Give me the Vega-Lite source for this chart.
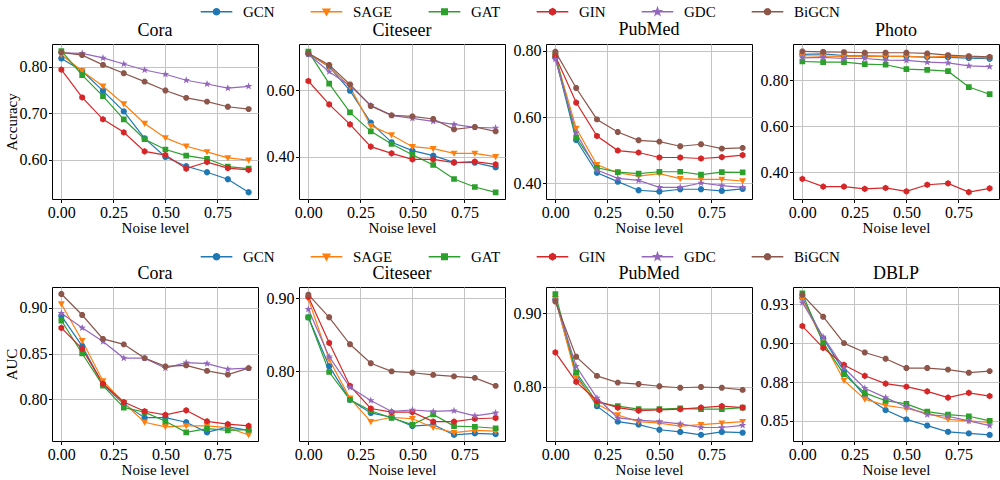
{
"$schema": "https://vega.github.io/schema/vega-lite/v6.json",
"padding": {"left": 3, "right": 0, "top": 4, "bottom": 0},
"datasets": {
"acc_Cora": [
{"model":"GCN","noise":0,"value":0.818},{"model":"GCN","noise":0.1,"value":0.791},{"model":"GCN","noise":0.2,"value":0.748},{"model":"GCN","noise":0.3,"value":0.704},{"model":"GCN","noise":0.4,"value":0.646},{"model":"GCN","noise":0.5,"value":0.606},{"model":"GCN","noise":0.6,"value":0.586},{"model":"GCN","noise":0.7,"value":0.573},{"model":"GCN","noise":0.8,"value":0.558},{"model":"GCN","noise":0.9,"value":0.530},
{"model":"SAGE","noise":0,"value":0.826},{"model":"SAGE","noise":0.1,"value":0.791},{"model":"SAGE","noise":0.2,"value":0.758},{"model":"SAGE","noise":0.3,"value":0.720},{"model":"SAGE","noise":0.4,"value":0.678},{"model":"SAGE","noise":0.5,"value":0.647},{"model":"SAGE","noise":0.6,"value":0.629},{"model":"SAGE","noise":0.7,"value":0.617},{"model":"SAGE","noise":0.8,"value":0.604},{"model":"SAGE","noise":0.9,"value":0.599},
{"model":"GAT","noise":0,"value":0.834},{"model":"GAT","noise":0.1,"value":0.782},{"model":"GAT","noise":0.2,"value":0.737},{"model":"GAT","noise":0.3,"value":0.687},{"model":"GAT","noise":0.4,"value":0.644},{"model":"GAT","noise":0.5,"value":0.622},{"model":"GAT","noise":0.6,"value":0.609},{"model":"GAT","noise":0.7,"value":0.602},{"model":"GAT","noise":0.8,"value":0.585},{"model":"GAT","noise":0.9,"value":0.581},
{"model":"GIN","noise":0,"value":0.794},{"model":"GIN","noise":0.1,"value":0.734},{"model":"GIN","noise":0.2,"value":0.687},{"model":"GIN","noise":0.3,"value":0.659},{"model":"GIN","noise":0.4,"value":0.618},{"model":"GIN","noise":0.5,"value":0.610},{"model":"GIN","noise":0.6,"value":0.581},{"model":"GIN","noise":0.7,"value":0.595},{"model":"GIN","noise":0.8,"value":0.582},{"model":"GIN","noise":0.9,"value":0.578},
{"model":"GDC","noise":0,"value":0.830},{"model":"GDC","noise":0.1,"value":0.829},{"model":"GDC","noise":0.2,"value":0.819},{"model":"GDC","noise":0.3,"value":0.806},{"model":"GDC","noise":0.4,"value":0.793},{"model":"GDC","noise":0.5,"value":0.784},{"model":"GDC","noise":0.6,"value":0.771},{"model":"GDC","noise":0.7,"value":0.763},{"model":"GDC","noise":0.8,"value":0.754},{"model":"GDC","noise":0.9,"value":0.758},
{"model":"BiGCN","noise":0,"value":0.831},{"model":"BiGCN","noise":0.1,"value":0.825},{"model":"BiGCN","noise":0.2,"value":0.804},{"model":"BiGCN","noise":0.3,"value":0.786},{"model":"BiGCN","noise":0.4,"value":0.768},{"model":"BiGCN","noise":0.5,"value":0.749},{"model":"BiGCN","noise":0.6,"value":0.733},{"model":"BiGCN","noise":0.7,"value":0.725},{"model":"BiGCN","noise":0.8,"value":0.714},{"model":"BiGCN","noise":0.9,"value":0.709}
],
"acc_Citeseer": [
{"model":"GCN","noise":0,"value":0.708},{"model":"GCN","noise":0.1,"value":0.670},{"model":"GCN","noise":0.2,"value":0.598},{"model":"GCN","noise":0.3,"value":0.502},{"model":"GCN","noise":0.4,"value":0.443},{"model":"GCN","noise":0.5,"value":0.418},{"model":"GCN","noise":0.6,"value":0.403},{"model":"GCN","noise":0.7,"value":0.383},{"model":"GCN","noise":0.8,"value":0.382},{"model":"GCN","noise":0.9,"value":0.368},
{"model":"SAGE","noise":0,"value":0.710},{"model":"SAGE","noise":0.1,"value":0.670},{"model":"SAGE","noise":0.2,"value":0.610},{"model":"SAGE","noise":0.3,"value":0.493},{"model":"SAGE","noise":0.4,"value":0.465},{"model":"SAGE","noise":0.5,"value":0.430},{"model":"SAGE","noise":0.6,"value":0.424},{"model":"SAGE","noise":0.7,"value":0.410},{"model":"SAGE","noise":0.8,"value":0.410},{"model":"SAGE","noise":0.9,"value":0.400},
{"model":"GAT","noise":0,"value":0.715},{"model":"GAT","noise":0.1,"value":0.619},{"model":"GAT","noise":0.2,"value":0.533},{"model":"GAT","noise":0.3,"value":0.476},{"model":"GAT","noise":0.4,"value":0.438},{"model":"GAT","noise":0.5,"value":0.406},{"model":"GAT","noise":0.6,"value":0.375},{"model":"GAT","noise":0.7,"value":0.333},{"model":"GAT","noise":0.8,"value":0.309},{"model":"GAT","noise":0.9,"value":0.293},
{"model":"GIN","noise":0,"value":0.627},{"model":"GIN","noise":0.1,"value":0.557},{"model":"GIN","noise":0.2,"value":0.497},{"model":"GIN","noise":0.3,"value":0.430},{"model":"GIN","noise":0.4,"value":0.410},{"model":"GIN","noise":0.5,"value":0.392},{"model":"GIN","noise":0.6,"value":0.392},{"model":"GIN","noise":0.7,"value":0.382},{"model":"GIN","noise":0.8,"value":0.385},{"model":"GIN","noise":0.9,"value":0.377},
{"model":"GDC","noise":0,"value":0.707},{"model":"GDC","noise":0.1,"value":0.655},{"model":"GDC","noise":0.2,"value":0.613},{"model":"GDC","noise":0.3,"value":0.554},{"model":"GDC","noise":0.4,"value":0.524},{"model":"GDC","noise":0.5,"value":0.515},{"model":"GDC","noise":0.6,"value":0.506},{"model":"GDC","noise":0.7,"value":0.497},{"model":"GDC","noise":0.8,"value":0.488},{"model":"GDC","noise":0.9,"value":0.486},
{"model":"BiGCN","noise":0,"value":0.710},{"model":"BiGCN","noise":0.1,"value":0.675},{"model":"BiGCN","noise":0.2,"value":0.617},{"model":"BiGCN","noise":0.3,"value":0.552},{"model":"BiGCN","noise":0.4,"value":0.524},{"model":"BiGCN","noise":0.5,"value":0.521},{"model":"BiGCN","noise":0.6,"value":0.513},{"model":"BiGCN","noise":0.7,"value":0.482},{"model":"BiGCN","noise":0.8,"value":0.489},{"model":"BiGCN","noise":0.9,"value":0.476}
],
"acc_PubMed": [
{"model":"GCN","noise":0,"value":0.780},{"model":"GCN","noise":0.1,"value":0.531},{"model":"GCN","noise":0.2,"value":0.432},{"model":"GCN","noise":0.3,"value":0.405},{"model":"GCN","noise":0.4,"value":0.379},{"model":"GCN","noise":0.5,"value":0.375},{"model":"GCN","noise":0.6,"value":0.382},{"model":"GCN","noise":0.7,"value":0.382},{"model":"GCN","noise":0.8,"value":0.377},{"model":"GCN","noise":0.9,"value":0.383},
{"model":"SAGE","noise":0,"value":0.785},{"model":"SAGE","noise":0.1,"value":0.566},{"model":"SAGE","noise":0.2,"value":0.456},{"model":"SAGE","noise":0.3,"value":0.432},{"model":"SAGE","noise":0.4,"value":0.422},{"model":"SAGE","noise":0.5,"value":0.429},{"model":"SAGE","noise":0.6,"value":0.414},{"model":"SAGE","noise":0.7,"value":0.412},{"model":"SAGE","noise":0.8,"value":0.412},{"model":"SAGE","noise":0.9,"value":0.407},
{"model":"GAT","noise":0,"value":0.788},{"model":"GAT","noise":0.1,"value":0.538},{"model":"GAT","noise":0.2,"value":0.447},{"model":"GAT","noise":0.3,"value":0.434},{"model":"GAT","noise":0.4,"value":0.429},{"model":"GAT","noise":0.5,"value":0.435},{"model":"GAT","noise":0.6,"value":0.435},{"model":"GAT","noise":0.7,"value":0.426},{"model":"GAT","noise":0.8,"value":0.434},{"model":"GAT","noise":0.9,"value":0.433},
{"model":"GIN","noise":0,"value":0.785},{"model":"GIN","noise":0.1,"value":0.644},{"model":"GIN","noise":0.2,"value":0.543},{"model":"GIN","noise":0.3,"value":0.499},{"model":"GIN","noise":0.4,"value":0.493},{"model":"GIN","noise":0.5,"value":0.478},{"model":"GIN","noise":0.6,"value":0.478},{"model":"GIN","noise":0.7,"value":0.475},{"model":"GIN","noise":0.8,"value":0.479},{"model":"GIN","noise":0.9,"value":0.485},
{"model":"GDC","noise":0,"value":0.775},{"model":"GDC","noise":0.1,"value":0.553},{"model":"GDC","noise":0.2,"value":0.440},{"model":"GDC","noise":0.3,"value":0.415},{"model":"GDC","noise":0.4,"value":0.409},{"model":"GDC","noise":0.5,"value":0.388},{"model":"GDC","noise":0.6,"value":0.388},{"model":"GDC","noise":0.7,"value":0.401},{"model":"GDC","noise":0.8,"value":0.393},{"model":"GDC","noise":0.9,"value":0.388},
{"model":"BiGCN","noise":0,"value":0.798},{"model":"BiGCN","noise":0.1,"value":0.688},{"model":"BiGCN","noise":0.2,"value":0.593},{"model":"BiGCN","noise":0.3,"value":0.555},{"model":"BiGCN","noise":0.4,"value":0.530},{"model":"BiGCN","noise":0.5,"value":0.526},{"model":"BiGCN","noise":0.6,"value":0.512},{"model":"BiGCN","noise":0.7,"value":0.518},{"model":"BiGCN","noise":0.8,"value":0.505},{"model":"BiGCN","noise":0.9,"value":0.507}
],
"acc_Photo": [
{"model":"GCN","noise":0,"value":0.912},{"model":"GCN","noise":0.1,"value":0.914},{"model":"GCN","noise":0.2,"value":0.907},{"model":"GCN","noise":0.3,"value":0.906},{"model":"GCN","noise":0.4,"value":0.903},{"model":"GCN","noise":0.5,"value":0.903},{"model":"GCN","noise":0.6,"value":0.900},{"model":"GCN","noise":0.7,"value":0.899},{"model":"GCN","noise":0.8,"value":0.896},{"model":"GCN","noise":0.9,"value":0.893},
{"model":"SAGE","noise":0,"value":0.906},{"model":"SAGE","noise":0.1,"value":0.904},{"model":"SAGE","noise":0.2,"value":0.903},{"model":"SAGE","noise":0.3,"value":0.904},{"model":"SAGE","noise":0.4,"value":0.903},{"model":"SAGE","noise":0.5,"value":0.903},{"model":"SAGE","noise":0.6,"value":0.900},{"model":"SAGE","noise":0.7,"value":0.903},{"model":"SAGE","noise":0.8,"value":0.900},{"model":"SAGE","noise":0.9,"value":0.897},
{"model":"GAT","noise":0,"value":0.881},{"model":"GAT","noise":0.1,"value":0.878},{"model":"GAT","noise":0.2,"value":0.878},{"model":"GAT","noise":0.3,"value":0.870},{"model":"GAT","noise":0.4,"value":0.867},{"model":"GAT","noise":0.5,"value":0.848},{"model":"GAT","noise":0.6,"value":0.845},{"model":"GAT","noise":0.7,"value":0.839},{"model":"GAT","noise":0.8,"value":0.770},{"model":"GAT","noise":0.9,"value":0.739},
{"model":"GIN","noise":0,"value":0.371},{"model":"GIN","noise":0.1,"value":0.338},{"model":"GIN","noise":0.2,"value":0.338},{"model":"GIN","noise":0.3,"value":0.328},{"model":"GIN","noise":0.4,"value":0.332},{"model":"GIN","noise":0.5,"value":0.317},{"model":"GIN","noise":0.6,"value":0.346},{"model":"GIN","noise":0.7,"value":0.352},{"model":"GIN","noise":0.8,"value":0.314},{"model":"GIN","noise":0.9,"value":0.330},
{"model":"GDC","noise":0,"value":0.897},{"model":"GDC","noise":0.1,"value":0.899},{"model":"GDC","noise":0.2,"value":0.894},{"model":"GDC","noise":0.3,"value":0.894},{"model":"GDC","noise":0.4,"value":0.887},{"model":"GDC","noise":0.5,"value":0.886},{"model":"GDC","noise":0.6,"value":0.878},{"model":"GDC","noise":0.7,"value":0.875},{"model":"GDC","noise":0.8,"value":0.862},{"model":"GDC","noise":0.9,"value":0.859},
{"model":"BiGCN","noise":0,"value":0.925},{"model":"BiGCN","noise":0.1,"value":0.923},{"model":"BiGCN","noise":0.2,"value":0.922},{"model":"BiGCN","noise":0.3,"value":0.919},{"model":"BiGCN","noise":0.4,"value":0.919},{"model":"BiGCN","noise":0.5,"value":0.919},{"model":"BiGCN","noise":0.6,"value":0.916},{"model":"BiGCN","noise":0.7,"value":0.909},{"model":"BiGCN","noise":0.8,"value":0.904},{"model":"BiGCN","noise":0.9,"value":0.901}
],
"auc_Cora": [
{"model":"GCN","noise":0,"value":0.891},{"model":"GCN","noise":0.1,"value":0.858},{"model":"GCN","noise":0.2,"value":0.816},{"model":"GCN","noise":0.3,"value":0.795},{"model":"GCN","noise":0.4,"value":0.780},{"model":"GCN","noise":0.5,"value":0.780},{"model":"GCN","noise":0.6,"value":0.775},{"model":"GCN","noise":0.7,"value":0.764},{"model":"GCN","noise":0.8,"value":0.770},{"model":"GCN","noise":0.9,"value":0.766},
{"model":"SAGE","noise":0,"value":0.904},{"model":"SAGE","noise":0.1,"value":0.864},{"model":"SAGE","noise":0.2,"value":0.820},{"model":"SAGE","noise":0.3,"value":0.796},{"model":"SAGE","noise":0.4,"value":0.775},{"model":"SAGE","noise":0.5,"value":0.770},{"model":"SAGE","noise":0.6,"value":0.771},{"model":"SAGE","noise":0.7,"value":0.771},{"model":"SAGE","noise":0.8,"value":0.769},{"model":"SAGE","noise":0.9,"value":0.761},
{"model":"GAT","noise":0,"value":0.886},{"model":"GAT","noise":0.1,"value":0.850},{"model":"GAT","noise":0.2,"value":0.815},{"model":"GAT","noise":0.3,"value":0.791},{"model":"GAT","noise":0.4,"value":0.786},{"model":"GAT","noise":0.5,"value":0.776},{"model":"GAT","noise":0.6,"value":0.764},{"model":"GAT","noise":0.7,"value":0.768},{"model":"GAT","noise":0.8,"value":0.766},{"model":"GAT","noise":0.9,"value":0.767},
{"model":"GIN","noise":0,"value":0.878},{"model":"GIN","noise":0.1,"value":0.855},{"model":"GIN","noise":0.2,"value":0.817},{"model":"GIN","noise":0.3,"value":0.797},{"model":"GIN","noise":0.4,"value":0.787},{"model":"GIN","noise":0.5,"value":0.783},{"model":"GIN","noise":0.6,"value":0.788},{"model":"GIN","noise":0.7,"value":0.776},{"model":"GIN","noise":0.8,"value":0.773},{"model":"GIN","noise":0.9,"value":0.771},
{"model":"GDC","noise":0,"value":0.894},{"model":"GDC","noise":0.1,"value":0.878},{"model":"GDC","noise":0.2,"value":0.863},{"model":"GDC","noise":0.3,"value":0.845},{"model":"GDC","noise":0.4,"value":0.845},{"model":"GDC","noise":0.5,"value":0.834},{"model":"GDC","noise":0.6,"value":0.840},{"model":"GDC","noise":0.7,"value":0.839},{"model":"GDC","noise":0.8,"value":0.833},{"model":"GDC","noise":0.9,"value":0.834},
{"model":"BiGCN","noise":0,"value":0.915},{"model":"BiGCN","noise":0.1,"value":0.892},{"model":"BiGCN","noise":0.2,"value":0.866},{"model":"BiGCN","noise":0.3,"value":0.860},{"model":"BiGCN","noise":0.4,"value":0.845},{"model":"BiGCN","noise":0.5,"value":0.836},{"model":"BiGCN","noise":0.6,"value":0.837},{"model":"BiGCN","noise":0.7,"value":0.831},{"model":"BiGCN","noise":0.8,"value":0.827},{"model":"BiGCN","noise":0.9,"value":0.834}
],
"auc_Citeseer": [
{"model":"GCN","noise":0,"value":0.874},{"model":"GCN","noise":0.1,"value":0.807},{"model":"GCN","noise":0.2,"value":0.761},{"model":"GCN","noise":0.3,"value":0.743},{"model":"GCN","noise":0.4,"value":0.737},{"model":"GCN","noise":0.5,"value":0.725},{"model":"GCN","noise":0.6,"value":0.727},{"model":"GCN","noise":0.7,"value":0.713},{"model":"GCN","noise":0.8,"value":0.715},{"model":"GCN","noise":0.9,"value":0.714},
{"model":"SAGE","noise":0,"value":0.899},{"model":"SAGE","noise":0.1,"value":0.816},{"model":"SAGE","noise":0.2,"value":0.763},{"model":"SAGE","noise":0.3,"value":0.731},{"model":"SAGE","noise":0.4,"value":0.737},{"model":"SAGE","noise":0.5,"value":0.735},{"model":"SAGE","noise":0.6,"value":0.723},{"model":"SAGE","noise":0.7,"value":0.716},{"model":"SAGE","noise":0.8,"value":0.719},{"model":"SAGE","noise":0.9,"value":0.718},
{"model":"GAT","noise":0,"value":0.874},{"model":"GAT","noise":0.1,"value":0.799},{"model":"GAT","noise":0.2,"value":0.761},{"model":"GAT","noise":0.3,"value":0.746},{"model":"GAT","noise":0.4,"value":0.736},{"model":"GAT","noise":0.5,"value":0.727},{"model":"GAT","noise":0.6,"value":0.741},{"model":"GAT","noise":0.7,"value":0.725},{"model":"GAT","noise":0.8,"value":0.724},{"model":"GAT","noise":0.9,"value":0.722},
{"model":"GIN","noise":0,"value":0.902},{"model":"GIN","noise":0.1,"value":0.839},{"model":"GIN","noise":0.2,"value":0.780},{"model":"GIN","noise":0.3,"value":0.749},{"model":"GIN","noise":0.4,"value":0.744},{"model":"GIN","noise":0.5,"value":0.744},{"model":"GIN","noise":0.6,"value":0.731},{"model":"GIN","noise":0.7,"value":0.731},{"model":"GIN","noise":0.8,"value":0.735},{"model":"GIN","noise":0.9,"value":0.736},
{"model":"GDC","noise":0,"value":0.885},{"model":"GDC","noise":0.1,"value":0.820},{"model":"GDC","noise":0.2,"value":0.778},{"model":"GDC","noise":0.3,"value":0.760},{"model":"GDC","noise":0.4,"value":0.745},{"model":"GDC","noise":0.5,"value":0.747},{"model":"GDC","noise":0.6,"value":0.745},{"model":"GDC","noise":0.7,"value":0.746},{"model":"GDC","noise":0.8,"value":0.739},{"model":"GDC","noise":0.9,"value":0.743},
{"model":"BiGCN","noise":0,"value":0.905},{"model":"BiGCN","noise":0.1,"value":0.874},{"model":"BiGCN","noise":0.2,"value":0.837},{"model":"BiGCN","noise":0.3,"value":0.811},{"model":"BiGCN","noise":0.4,"value":0.800},{"model":"BiGCN","noise":0.5,"value":0.798},{"model":"BiGCN","noise":0.6,"value":0.795},{"model":"BiGCN","noise":0.7,"value":0.793},{"model":"BiGCN","noise":0.8,"value":0.791},{"model":"BiGCN","noise":0.9,"value":0.780}
],
"auc_PubMed": [
{"model":"GCN","noise":0,"value":0.919},{"model":"GCN","noise":0.1,"value":0.817},{"model":"GCN","noise":0.2,"value":0.774},{"model":"GCN","noise":0.3,"value":0.753},{"model":"GCN","noise":0.4,"value":0.749},{"model":"GCN","noise":0.5,"value":0.742},{"model":"GCN","noise":0.6,"value":0.739},{"model":"GCN","noise":0.7,"value":0.735},{"model":"GCN","noise":0.8,"value":0.739},{"model":"GCN","noise":0.9,"value":0.738},
{"model":"SAGE","noise":0,"value":0.920},{"model":"SAGE","noise":0.1,"value":0.813},{"model":"SAGE","noise":0.2,"value":0.777},{"model":"SAGE","noise":0.3,"value":0.762},{"model":"SAGE","noise":0.4,"value":0.753},{"model":"SAGE","noise":0.5,"value":0.751},{"model":"SAGE","noise":0.6,"value":0.747},{"model":"SAGE","noise":0.7,"value":0.749},{"model":"SAGE","noise":0.8,"value":0.751},{"model":"SAGE","noise":0.9,"value":0.753},
{"model":"GAT","noise":0,"value":0.926},{"model":"GAT","noise":0.1,"value":0.820},{"model":"GAT","noise":0.2,"value":0.779},{"model":"GAT","noise":0.3,"value":0.774},{"model":"GAT","noise":0.4,"value":0.770},{"model":"GAT","noise":0.5,"value":0.770},{"model":"GAT","noise":0.6,"value":0.771},{"model":"GAT","noise":0.7,"value":0.770},{"model":"GAT","noise":0.8,"value":0.770},{"model":"GAT","noise":0.9,"value":0.772},
{"model":"GIN","noise":0,"value":0.847},{"model":"GIN","noise":0.1,"value":0.807},{"model":"GIN","noise":0.2,"value":0.781},{"model":"GIN","noise":0.3,"value":0.772},{"model":"GIN","noise":0.4,"value":0.768},{"model":"GIN","noise":0.5,"value":0.769},{"model":"GIN","noise":0.6,"value":0.770},{"model":"GIN","noise":0.7,"value":0.772},{"model":"GIN","noise":0.8,"value":0.774},{"model":"GIN","noise":0.9,"value":0.772},
{"model":"GDC","noise":0,"value":0.918},{"model":"GDC","noise":0.1,"value":0.828},{"model":"GDC","noise":0.2,"value":0.785},{"model":"GDC","noise":0.3,"value":0.758},{"model":"GDC","noise":0.4,"value":0.755},{"model":"GDC","noise":0.5,"value":0.753},{"model":"GDC","noise":0.6,"value":0.750},{"model":"GDC","noise":0.7,"value":0.745},{"model":"GDC","noise":0.8,"value":0.745},{"model":"GDC","noise":0.9,"value":0.748},
{"model":"BiGCN","noise":0,"value":0.916},{"model":"BiGCN","noise":0.1,"value":0.841},{"model":"BiGCN","noise":0.2,"value":0.815},{"model":"BiGCN","noise":0.3,"value":0.806},{"model":"BiGCN","noise":0.4,"value":0.804},{"model":"BiGCN","noise":0.5,"value":0.801},{"model":"BiGCN","noise":0.6,"value":0.799},{"model":"BiGCN","noise":0.7,"value":0.800},{"model":"BiGCN","noise":0.8,"value":0.799},{"model":"BiGCN","noise":0.9,"value":0.796}
],
"auc_DBLP": [
{"model":"GCN","noise":0,"value":0.929},{"model":"GCN","noise":0.1,"value":0.903},{"model":"GCN","noise":0.2,"value":0.882},{"model":"GCN","noise":0.3,"value":0.866},{"model":"GCN","noise":0.4,"value":0.857},{"model":"GCN","noise":0.5,"value":0.851},{"model":"GCN","noise":0.6,"value":0.847},{"model":"GCN","noise":0.7,"value":0.843},{"model":"GCN","noise":0.8,"value":0.842},{"model":"GCN","noise":0.9,"value":0.841},
{"model":"SAGE","noise":0,"value":0.928},{"model":"SAGE","noise":0.1,"value":0.901},{"model":"SAGE","noise":0.2,"value":0.876},{"model":"SAGE","noise":0.3,"value":0.864},{"model":"SAGE","noise":0.4,"value":0.860},{"model":"SAGE","noise":0.5,"value":0.858},{"model":"SAGE","noise":0.6,"value":0.855},{"model":"SAGE","noise":0.7,"value":0.851},{"model":"SAGE","noise":0.8,"value":0.850},{"model":"SAGE","noise":0.9,"value":0.849},
{"model":"GAT","noise":0,"value":0.932},{"model":"GAT","noise":0.1,"value":0.900},{"model":"GAT","noise":0.2,"value":0.880},{"model":"GAT","noise":0.3,"value":0.868},{"model":"GAT","noise":0.4,"value":0.863},{"model":"GAT","noise":0.5,"value":0.861},{"model":"GAT","noise":0.6,"value":0.856},{"model":"GAT","noise":0.7,"value":0.854},{"model":"GAT","noise":0.8,"value":0.853},{"model":"GAT","noise":0.9,"value":0.850},
{"model":"GIN","noise":0,"value":0.911},{"model":"GIN","noise":0.1,"value":0.897},{"model":"GIN","noise":0.2,"value":0.886},{"model":"GIN","noise":0.3,"value":0.879},{"model":"GIN","noise":0.4,"value":0.874},{"model":"GIN","noise":0.5,"value":0.872},{"model":"GIN","noise":0.6,"value":0.869},{"model":"GIN","noise":0.7,"value":0.865},{"model":"GIN","noise":0.8,"value":0.868},{"model":"GIN","noise":0.9,"value":0.866},
{"model":"GDC","noise":0,"value":0.926},{"model":"GDC","noise":0.1,"value":0.904},{"model":"GDC","noise":0.2,"value":0.884},{"model":"GDC","noise":0.3,"value":0.871},{"model":"GDC","noise":0.4,"value":0.865},{"model":"GDC","noise":0.5,"value":0.859},{"model":"GDC","noise":0.6,"value":0.854},{"model":"GDC","noise":0.7,"value":0.853},{"model":"GDC","noise":0.8,"value":0.850},{"model":"GDC","noise":0.9,"value":0.847},
{"model":"BiGCN","noise":0,"value":0.931},{"model":"BiGCN","noise":0.1,"value":0.917},{"model":"BiGCN","noise":0.2,"value":0.900},{"model":"BiGCN","noise":0.3,"value":0.894},{"model":"BiGCN","noise":0.4,"value":0.890},{"model":"BiGCN","noise":0.5,"value":0.884},{"model":"BiGCN","noise":0.6,"value":0.884},{"model":"BiGCN","noise":0.7,"value":0.883},{"model":"BiGCN","noise":0.8,"value":0.881},{"model":"BiGCN","noise":0.9,"value":0.882}
]
},
"vconcat": [
{
"spacing": 41, "bounds": "flush",
"hconcat": [
{"data": {"name": "acc_Cora"}, "title": "Cora", "width": 206, "height": 155,
 "encoding": {
  "x": {"field": "noise", "type": "quantitative", "scale": {"domain": [-0.045, 0.945], "nice": false, "zero": false}, "axis": {"values": [0, 0.25, 0.5, 0.75], "format": ".2f", "title": "Noise level"}},
  "y": {"field": "value", "type": "quantitative", "scale": {"domain": [0.5155, 0.849], "nice": false, "zero": false}, "axis": {"values": [0.6, 0.7, 0.8], "format": ".2f", "title": "Accuracy"}},
  "color": {"field": "model", "type": "nominal", "scale": {"domain": ["GCN","SAGE","GAT","GIN","GDC","BiGCN"], "range": ["#1f77b4","#ff7f0e","#2ca02c","#d62728","#9467bd","#8c564b"]},
   "legend": {"orient": "none", "legendX": 157, "legendY": -40, "direction": "horizontal", "columns": 6, "title": null, "labelFont": "Liberation Serif", "labelFontSize": 15, "labelColor": "#000", "symbolSize": 40, "symbolStrokeWidth": 1.3, "symbolOpacity": 1, "columnPadding": 33, "labelOffset": 19, "padding": 0}}
 },
 "layer": [
  {"mark": {"type": "line", "strokeWidth": 1.2}, "encoding": {}},
  {"mark": {"type": "point", "filled": true, "opacity": 1, "size": 40, "strokeWidth": 0}, "encoding": {"shape": {"field": "model", "type": "nominal",
   "legend": {"orient": "none", "legendX": 157, "legendY": -40, "direction": "horizontal", "columns": 6, "title": null, "labelFont": "Liberation Serif", "labelFontSize": 15, "labelColor": "#000", "symbolSize": 40, "symbolStrokeWidth": 1.3, "symbolOpacity": 1, "columnPadding": 33, "labelOffset": 19, "padding": 0},
   "scale": {"domain": ["GCN","SAGE","GAT","GIN","GDC","BiGCN"], "range": ["M-5,0H5M1,0L0.866,0.5L0.5,0.866L0,1L-0.5,0.866L-0.866,0.5L-1,0L-0.866,-0.5L-0.5,-0.866L0,-1L0.5,-0.866L0.866,-0.5Z","M-5,0H5M-1.1,-0.85L1.1,-0.85L0,1.1Z","M-5,0H5M-0.9,-0.9H0.9V0.9H-0.9Z","M-5,0H5M0,-1.05L0.91,-0.525L0.91,0.525L0,1.05L-0.91,0.525L-0.91,-0.525Z","M-5,0H5M0,-1.25L0.294,-0.404L1.189,-0.386L0.475,0.154L0.735,1.011L0,0.5L-0.735,1.011L-0.475,0.154L-1.189,-0.386L-0.294,-0.404Z","M-5,0H5M0.924,0.383L0.383,0.924L-0.383,0.924L-0.924,0.383L-0.924,-0.383L-0.383,-0.924L0.383,-0.924L0.924,-0.383Z"]}}}}
 ]
},
{"data": {"name": "acc_Citeseer"}, "title": "Citeseer", "width": 206, "height": 155,
 "encoding": {
  "x": {"field": "noise", "type": "quantitative", "scale": {"domain": [-0.045, 0.945], "nice": false, "zero": false}, "axis": {"values": [0, 0.25, 0.5, 0.75], "format": ".2f", "title": "Noise level"}},
  "y": {"field": "value", "type": "quantitative", "scale": {"domain": [0.273, 0.738], "nice": false, "zero": false}, "axis": {"values": [0.4, 0.6], "format": ".2f", "title": null}},
  "color": {"field": "model", "type": "nominal", "scale": {"domain": ["GCN","SAGE","GAT","GIN","GDC","BiGCN"], "range": ["#1f77b4","#ff7f0e","#2ca02c","#d62728","#9467bd","#8c564b"]}, "legend": null}
 },
 "layer": [
  {"mark": {"type": "line", "strokeWidth": 1.2}, "encoding": {}},
  {"mark": {"type": "point", "filled": true, "opacity": 1, "size": 40, "strokeWidth": 0}, "encoding": {"shape": {"field": "model", "type": "nominal", "legend": null, "scale": {"domain": ["GCN","SAGE","GAT","GIN","GDC","BiGCN"], "range": ["M-5,0H5M1,0L0.866,0.5L0.5,0.866L0,1L-0.5,0.866L-0.866,0.5L-1,0L-0.866,-0.5L-0.5,-0.866L0,-1L0.5,-0.866L0.866,-0.5Z","M-5,0H5M-1.1,-0.85L1.1,-0.85L0,1.1Z","M-5,0H5M-0.9,-0.9H0.9V0.9H-0.9Z","M-5,0H5M0,-1.05L0.91,-0.525L0.91,0.525L0,1.05L-0.91,0.525L-0.91,-0.525Z","M-5,0H5M0,-1.25L0.294,-0.404L1.189,-0.386L0.475,0.154L0.735,1.011L0,0.5L-0.735,1.011L-0.475,0.154L-1.189,-0.386L-0.294,-0.404Z","M-5,0H5M0.924,0.383L0.383,0.924L-0.383,0.924L-0.924,0.383L-0.924,-0.383L-0.383,-0.924L0.383,-0.924L0.924,-0.383Z"]}}}}
 ]
},
{"data": {"name": "acc_PubMed"}, "title": "PubMed", "width": 206, "height": 155,
 "encoding": {
  "x": {"field": "noise", "type": "quantitative", "scale": {"domain": [-0.045, 0.945], "nice": false, "zero": false}, "axis": {"values": [0, 0.25, 0.5, 0.75], "format": ".2f", "title": "Noise level"}},
  "y": {"field": "value", "type": "quantitative", "scale": {"domain": [0.3526, 0.821], "nice": false, "zero": false}, "axis": {"values": [0.4, 0.6, 0.8], "format": ".2f", "title": null}},
  "color": {"field": "model", "type": "nominal", "scale": {"domain": ["GCN","SAGE","GAT","GIN","GDC","BiGCN"], "range": ["#1f77b4","#ff7f0e","#2ca02c","#d62728","#9467bd","#8c564b"]}, "legend": null}
 },
 "layer": [
  {"mark": {"type": "line", "strokeWidth": 1.2}, "encoding": {}},
  {"mark": {"type": "point", "filled": true, "opacity": 1, "size": 40, "strokeWidth": 0}, "encoding": {"shape": {"field": "model", "type": "nominal", "legend": null, "scale": {"domain": ["GCN","SAGE","GAT","GIN","GDC","BiGCN"], "range": ["M-5,0H5M1,0L0.866,0.5L0.5,0.866L0,1L-0.5,0.866L-0.866,0.5L-1,0L-0.866,-0.5L-0.5,-0.866L0,-1L0.5,-0.866L0.866,-0.5Z","M-5,0H5M-1.1,-0.85L1.1,-0.85L0,1.1Z","M-5,0H5M-0.9,-0.9H0.9V0.9H-0.9Z","M-5,0H5M0,-1.05L0.91,-0.525L0.91,0.525L0,1.05L-0.91,0.525L-0.91,-0.525Z","M-5,0H5M0,-1.25L0.294,-0.404L1.189,-0.386L0.475,0.154L0.735,1.011L0,0.5L-0.735,1.011L-0.475,0.154L-1.189,-0.386L-0.294,-0.404Z","M-5,0H5M0.924,0.383L0.383,0.924L-0.383,0.924L-0.924,0.383L-0.924,-0.383L-0.383,-0.924L0.383,-0.924L0.924,-0.383Z"]}}}}
 ]
},
{"data": {"name": "acc_Photo"}, "title": "Photo", "width": 206, "height": 155,
 "encoding": {
  "x": {"field": "noise", "type": "quantitative", "scale": {"domain": [-0.045, 0.945], "nice": false, "zero": false}, "axis": {"values": [0, 0.25, 0.5, 0.75], "format": ".2f", "title": "Noise level"}},
  "y": {"field": "value", "type": "quantitative", "scale": {"domain": [0.284, 0.957], "nice": false, "zero": false}, "axis": {"values": [0.4, 0.6, 0.8], "format": ".2f", "title": null}},
  "color": {"field": "model", "type": "nominal", "scale": {"domain": ["GCN","SAGE","GAT","GIN","GDC","BiGCN"], "range": ["#1f77b4","#ff7f0e","#2ca02c","#d62728","#9467bd","#8c564b"]}, "legend": null}
 },
 "layer": [
  {"mark": {"type": "line", "strokeWidth": 1.2}, "encoding": {}},
  {"mark": {"type": "point", "filled": true, "opacity": 1, "size": 40, "strokeWidth": 0}, "encoding": {"shape": {"field": "model", "type": "nominal", "legend": null, "scale": {"domain": ["GCN","SAGE","GAT","GIN","GDC","BiGCN"], "range": ["M-5,0H5M1,0L0.866,0.5L0.5,0.866L0,1L-0.5,0.866L-0.866,0.5L-1,0L-0.866,-0.5L-0.5,-0.866L0,-1L0.5,-0.866L0.866,-0.5Z","M-5,0H5M-1.1,-0.85L1.1,-0.85L0,1.1Z","M-5,0H5M-0.9,-0.9H0.9V0.9H-0.9Z","M-5,0H5M0,-1.05L0.91,-0.525L0.91,0.525L0,1.05L-0.91,0.525L-0.91,-0.525Z","M-5,0H5M0,-1.25L0.294,-0.404L1.189,-0.386L0.475,0.154L0.735,1.011L0,0.5L-0.735,1.011L-0.475,0.154L-1.189,-0.386L-0.294,-0.404Z","M-5,0H5M0.924,0.383L0.383,0.924L-0.383,0.924L-0.924,0.383L-0.924,-0.383L-0.383,-0.924L0.383,-0.924L0.924,-0.383Z"]}}}}
 ]
}
]
},
{
"spacing": 41, "bounds": "flush",
"hconcat": [
{"data": {"name": "auc_Cora"}, "title": "Cora", "width": 206, "height": 154,
 "encoding": {
  "x": {"field": "noise", "type": "quantitative", "scale": {"domain": [-0.045, 0.945], "nice": false, "zero": false}, "axis": {"values": [0, 0.25, 0.5, 0.75], "format": ".2f", "title": "Noise level"}},
  "y": {"field": "value", "type": "quantitative", "scale": {"domain": [0.7545, 0.9226], "nice": false, "zero": false}, "axis": {"values": [0.8, 0.85, 0.9], "format": ".2f", "title": "AUC"}},
  "color": {"field": "model", "type": "nominal", "scale": {"domain": ["GCN","SAGE","GAT","GIN","GDC","BiGCN"], "range": ["#1f77b4","#ff7f0e","#2ca02c","#d62728","#9467bd","#8c564b"]},
   "legend": {"orient": "none", "legendX": 157, "legendY": -38, "direction": "horizontal", "columns": 6, "title": null, "labelFont": "Liberation Serif", "labelFontSize": 15, "labelColor": "#000", "symbolSize": 40, "symbolStrokeWidth": 1.3, "symbolOpacity": 1, "columnPadding": 33, "labelOffset": 19, "padding": 0}}
 },
 "layer": [
  {"mark": {"type": "line", "strokeWidth": 1.2}, "encoding": {}},
  {"mark": {"type": "point", "filled": true, "opacity": 1, "size": 40, "strokeWidth": 0}, "encoding": {"shape": {"field": "model", "type": "nominal",
   "legend": {"orient": "none", "legendX": 157, "legendY": -38, "direction": "horizontal", "columns": 6, "title": null, "labelFont": "Liberation Serif", "labelFontSize": 15, "labelColor": "#000", "symbolSize": 40, "symbolStrokeWidth": 1.3, "symbolOpacity": 1, "columnPadding": 33, "labelOffset": 19, "padding": 0},
   "scale": {"domain": ["GCN","SAGE","GAT","GIN","GDC","BiGCN"], "range": ["M-5,0H5M1,0L0.866,0.5L0.5,0.866L0,1L-0.5,0.866L-0.866,0.5L-1,0L-0.866,-0.5L-0.5,-0.866L0,-1L0.5,-0.866L0.866,-0.5Z","M-5,0H5M-1.1,-0.85L1.1,-0.85L0,1.1Z","M-5,0H5M-0.9,-0.9H0.9V0.9H-0.9Z","M-5,0H5M0,-1.05L0.91,-0.525L0.91,0.525L0,1.05L-0.91,0.525L-0.91,-0.525Z","M-5,0H5M0,-1.25L0.294,-0.404L1.189,-0.386L0.475,0.154L0.735,1.011L0,0.5L-0.735,1.011L-0.475,0.154L-1.189,-0.386L-0.294,-0.404Z","M-5,0H5M0.924,0.383L0.383,0.924L-0.383,0.924L-0.924,0.383L-0.924,-0.383L-0.383,-0.924L0.383,-0.924L0.924,-0.383Z"]}}}}
 ]
},
{"data": {"name": "auc_Citeseer"}, "title": "Citeseer", "width": 206, "height": 154,
 "encoding": {
  "x": {"field": "noise", "type": "quantitative", "scale": {"domain": [-0.045, 0.945], "nice": false, "zero": false}, "axis": {"values": [0, 0.25, 0.5, 0.75], "format": ".2f", "title": "Noise level"}},
  "y": {"field": "value", "type": "quantitative", "scale": {"domain": [0.7045, 0.9155], "nice": false, "zero": false}, "axis": {"values": [0.8, 0.9], "format": ".2f", "title": null}},
  "color": {"field": "model", "type": "nominal", "scale": {"domain": ["GCN","SAGE","GAT","GIN","GDC","BiGCN"], "range": ["#1f77b4","#ff7f0e","#2ca02c","#d62728","#9467bd","#8c564b"]}, "legend": null}
 },
 "layer": [
  {"mark": {"type": "line", "strokeWidth": 1.2}, "encoding": {}},
  {"mark": {"type": "point", "filled": true, "opacity": 1, "size": 40, "strokeWidth": 0}, "encoding": {"shape": {"field": "model", "type": "nominal", "legend": null, "scale": {"domain": ["GCN","SAGE","GAT","GIN","GDC","BiGCN"], "range": ["M-5,0H5M1,0L0.866,0.5L0.5,0.866L0,1L-0.5,0.866L-0.866,0.5L-1,0L-0.866,-0.5L-0.5,-0.866L0,-1L0.5,-0.866L0.866,-0.5Z","M-5,0H5M-1.1,-0.85L1.1,-0.85L0,1.1Z","M-5,0H5M-0.9,-0.9H0.9V0.9H-0.9Z","M-5,0H5M0,-1.05L0.91,-0.525L0.91,0.525L0,1.05L-0.91,0.525L-0.91,-0.525Z","M-5,0H5M0,-1.25L0.294,-0.404L1.189,-0.386L0.475,0.154L0.735,1.011L0,0.5L-0.735,1.011L-0.475,0.154L-1.189,-0.386L-0.294,-0.404Z","M-5,0H5M0.924,0.383L0.383,0.924L-0.383,0.924L-0.924,0.383L-0.924,-0.383L-0.383,-0.924L0.383,-0.924L0.924,-0.383Z"]}}}}
 ]
},
{"data": {"name": "auc_PubMed"}, "title": "PubMed", "width": 206, "height": 154,
 "encoding": {
  "x": {"field": "noise", "type": "quantitative", "scale": {"domain": [-0.045, 0.945], "nice": false, "zero": false}, "axis": {"values": [0, 0.25, 0.5, 0.75], "format": ".2f", "title": "Noise level"}},
  "y": {"field": "value", "type": "quantitative", "scale": {"domain": [0.7267, 0.9357], "nice": false, "zero": false}, "axis": {"values": [0.8, 0.9], "format": ".2f", "title": null}},
  "color": {"field": "model", "type": "nominal", "scale": {"domain": ["GCN","SAGE","GAT","GIN","GDC","BiGCN"], "range": ["#1f77b4","#ff7f0e","#2ca02c","#d62728","#9467bd","#8c564b"]}, "legend": null}
 },
 "layer": [
  {"mark": {"type": "line", "strokeWidth": 1.2}, "encoding": {}},
  {"mark": {"type": "point", "filled": true, "opacity": 1, "size": 40, "strokeWidth": 0}, "encoding": {"shape": {"field": "model", "type": "nominal", "legend": null, "scale": {"domain": ["GCN","SAGE","GAT","GIN","GDC","BiGCN"], "range": ["M-5,0H5M1,0L0.866,0.5L0.5,0.866L0,1L-0.5,0.866L-0.866,0.5L-1,0L-0.866,-0.5L-0.5,-0.866L0,-1L0.5,-0.866L0.866,-0.5Z","M-5,0H5M-1.1,-0.85L1.1,-0.85L0,1.1Z","M-5,0H5M-0.9,-0.9H0.9V0.9H-0.9Z","M-5,0H5M0,-1.05L0.91,-0.525L0.91,0.525L0,1.05L-0.91,0.525L-0.91,-0.525Z","M-5,0H5M0,-1.25L0.294,-0.404L1.189,-0.386L0.475,0.154L0.735,1.011L0,0.5L-0.735,1.011L-0.475,0.154L-1.189,-0.386L-0.294,-0.404Z","M-5,0H5M0.924,0.383L0.383,0.924L-0.383,0.924L-0.924,0.383L-0.924,-0.383L-0.383,-0.924L0.383,-0.924L0.924,-0.383Z"]}}}}
 ]
},
{"data": {"name": "auc_DBLP"}, "title": "DBLP", "width": 206, "height": 154,
 "encoding": {
  "x": {"field": "noise", "type": "quantitative", "scale": {"domain": [-0.045, 0.945], "nice": false, "zero": false}, "axis": {"values": [0, 0.25, 0.5, 0.75], "format": ".2f", "title": "Noise level"}},
  "y": {"field": "value", "type": "quantitative", "scale": {"domain": [0.8371, 0.9361], "nice": false, "zero": false}, "axis": {"values": [0.85, 0.875, 0.9, 0.925], "format": ".2f", "title": null}},
  "color": {"field": "model", "type": "nominal", "scale": {"domain": ["GCN","SAGE","GAT","GIN","GDC","BiGCN"], "range": ["#1f77b4","#ff7f0e","#2ca02c","#d62728","#9467bd","#8c564b"]}, "legend": null}
 },
 "layer": [
  {"mark": {"type": "line", "strokeWidth": 1.2}, "encoding": {}},
  {"mark": {"type": "point", "filled": true, "opacity": 1, "size": 40, "strokeWidth": 0}, "encoding": {"shape": {"field": "model", "type": "nominal", "legend": null, "scale": {"domain": ["GCN","SAGE","GAT","GIN","GDC","BiGCN"], "range": ["M-5,0H5M1,0L0.866,0.5L0.5,0.866L0,1L-0.5,0.866L-0.866,0.5L-1,0L-0.866,-0.5L-0.5,-0.866L0,-1L0.5,-0.866L0.866,-0.5Z","M-5,0H5M-1.1,-0.85L1.1,-0.85L0,1.1Z","M-5,0H5M-0.9,-0.9H0.9V0.9H-0.9Z","M-5,0H5M0,-1.05L0.91,-0.525L0.91,0.525L0,1.05L-0.91,0.525L-0.91,-0.525Z","M-5,0H5M0,-1.25L0.294,-0.404L1.189,-0.386L0.475,0.154L0.735,1.011L0,0.5L-0.735,1.011L-0.475,0.154L-1.189,-0.386L-0.294,-0.404Z","M-5,0H5M0.924,0.383L0.383,0.924L-0.383,0.924L-0.924,0.383L-0.924,-0.383L-0.383,-0.924L0.383,-0.924L0.924,-0.383Z"]}}}}
 ]
}
]
}
],
"spacing": 13,
"resolve": {"scale": {"color": "independent", "shape": "independent"}, "legend": {"color": "independent", "shape": "independent"}},
"config": {
 "font": "Liberation Serif",
 "view": {"stroke": "#000", "strokeWidth": 1},
 "axis": {"labelFont": "Liberation Serif", "labelFontSize": 16, "labelColor": "#000", "titleFont": "Liberation Serif", "titleFontSize": 15, "titleFontWeight": "normal", "titleColor": "#000", "domain": false, "tickColor": "#000", "tickSize": 3.5, "gridColor": "#c4c4c4", "gridWidth": 1, "labelPadding": 1.5, "titlePadding": 0},
 "title": {"font": "Liberation Serif", "fontSize": 18, "fontWeight": "normal", "color": "#000", "offset": 0}
}
}
